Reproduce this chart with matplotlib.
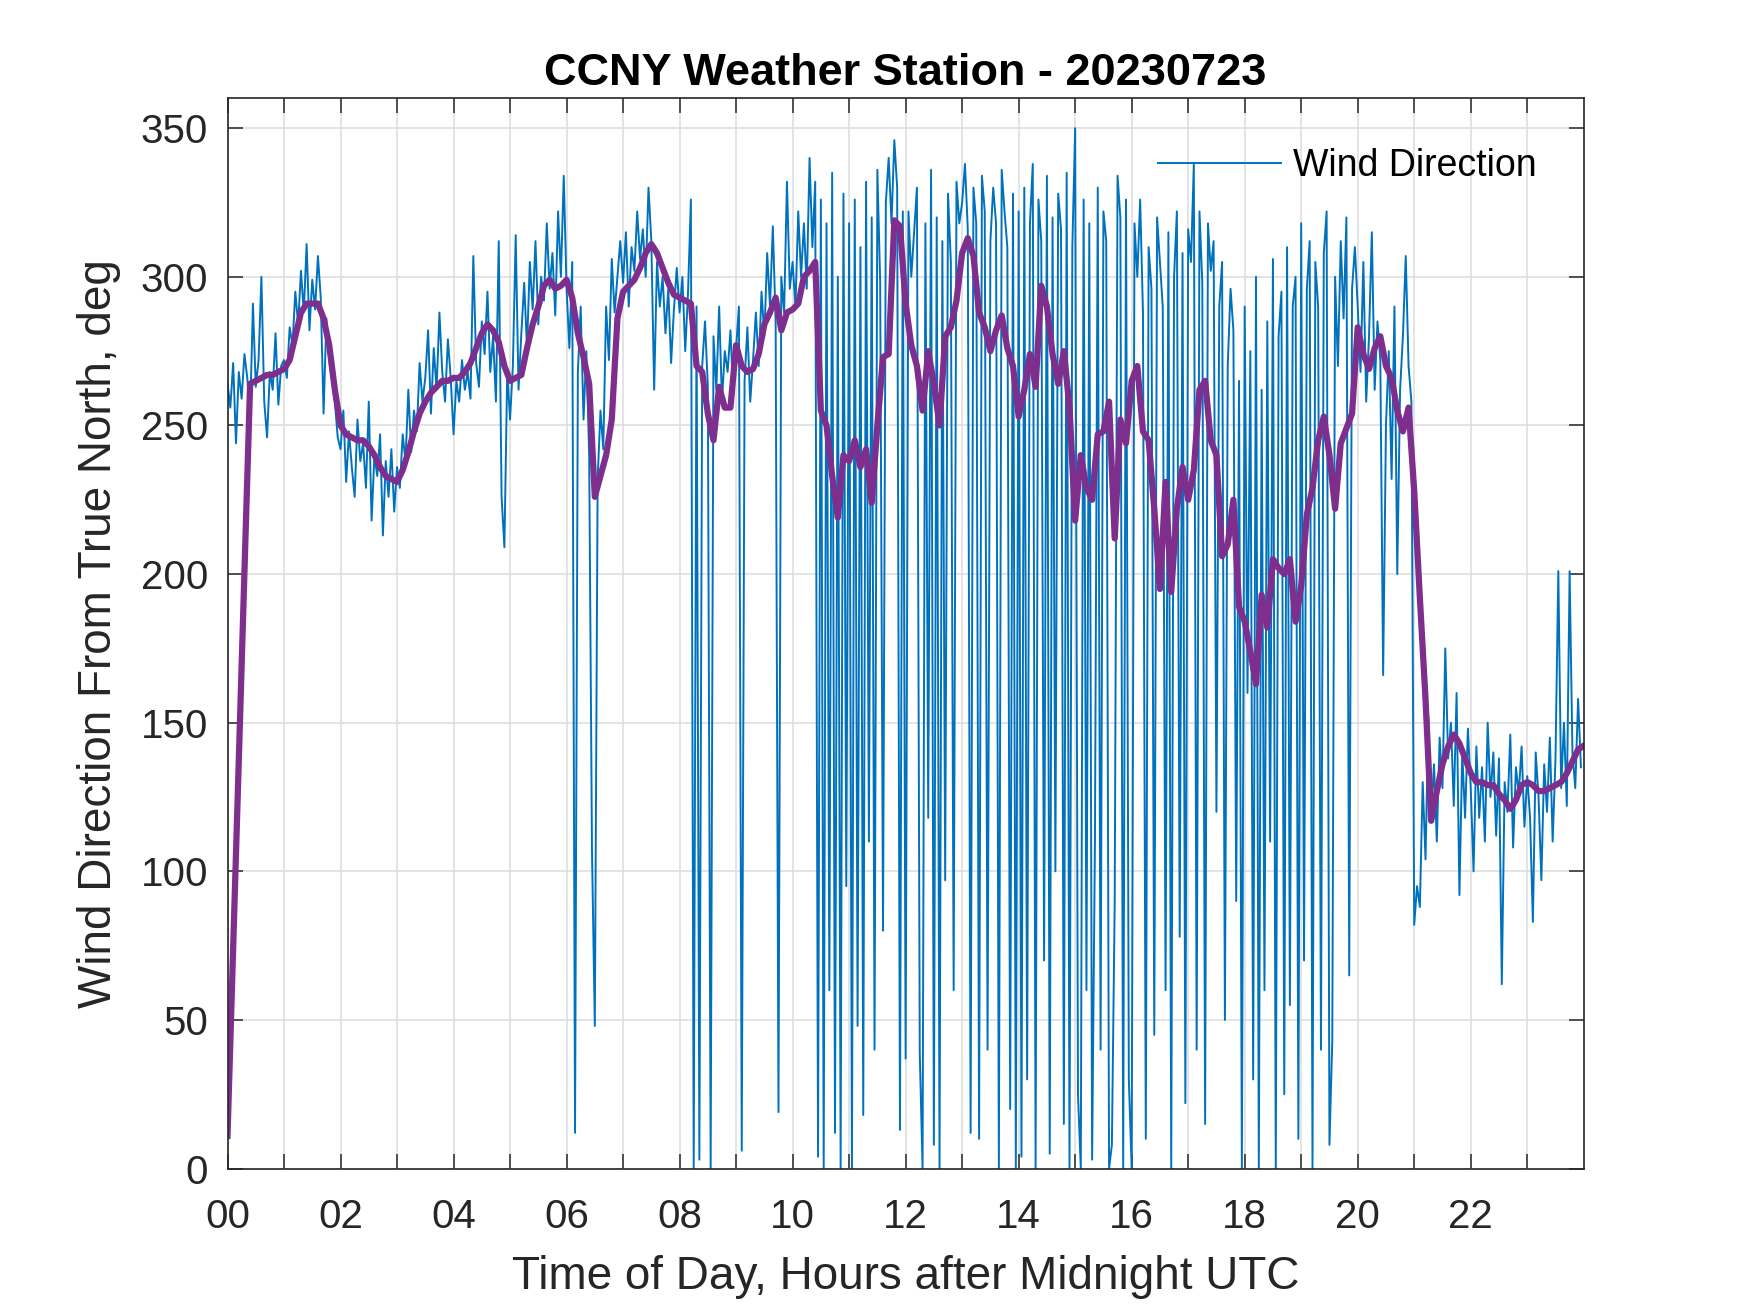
import matplotlib
matplotlib.use("Agg")
import matplotlib.pyplot as plt
import numpy as np

plt.rcParams['font.family'] = ['Liberation Sans', 'DejaVu Sans']

# wind direction samples, one every 3 minutes, one row per hour
wind_dir = [
    264, 256, 271, 244, 268, 259, 274, 266, 253, 291, 263, 272, 300, 258, 246, 268, 262, 281, 257, 270,
    272, 266, 283, 277, 295, 284, 302, 288, 311, 282, 299, 289, 307, 293, 254, 286, 272, 265, 258, 246,
    242, 255, 231, 248, 236, 226, 252, 238, 244, 229, 258, 218, 240, 233, 247, 213, 238, 226, 242, 221,
    236, 229, 247, 238, 262, 241, 255, 248, 271, 258, 266, 282, 254, 276, 262, 288, 268, 258, 279, 266,
    247, 265, 258, 272, 262, 268, 259, 307, 271, 263, 285, 274, 295, 268, 280, 258, 312, 226, 209, 268,
    252, 270, 314, 262, 281, 298, 276, 305, 289, 312, 284, 300, 292, 318, 296, 308, 287, 322, 300, 334,
    296, 276, 305, 12, 268, 290, 252, 275, 240, 107, 48, 232, 255, 242, 290, 272, 306, 288, 300, 312,
    298, 315, 290, 310, 302, 322, 306, 316, 300, 330, 312, 262, 305, 290, 300, 281, 296, 271, 289, 303,
    288, 300, 275, 295, 326, 0, 290, 3, 270, 285, 263, 0, 280, 262, 290, 258, 275, 268, 282, 260,
    276, 290, 6, 265, 283, 258, 272, 288, 270, 295, 280, 308, 290, 317, 285, 19, 300, 288, 332, 296,
    305, 290, 322, 300, 318, 296, 340, 310, 332, 4, 326, 0, 318, 60, 335, 12, 300, 0, 328, 95,
    318, 0, 326, 48, 310, 18, 332, 110, 320, 40, 336, 298, 80, 325, 340, 318, 346, 330, 13, 322,
    37, 322, 300, 315, 330, 39, 0, 318, 118, 336, 8, 320, 0, 312, 97, 328, 305, 60, 332, 318,
    325, 338, 316, 12, 330, 318, 10, 334, 322, 40, 312, 330, 318, 0, 336, 322, 310, 20, 328, 0,
    322, 4, 330, 30, 318, 338, 0, 326, 312, 70, 334, 5, 320, 100, 328, 316, 15, 335, 0, 310,
    350, 25, 0, 326, 60, 318, 3, 110, 330, 40, 322, 312, 0, 8, 90, 334, 320, 0, 326, 30,
    0, 318, 300, 326, 288, 10, 310, 296, 45, 320, 305, 290, 60, 315, 0, 300, 322, 78, 308, 22,
    316, 305, 338, 40, 322, 298, 15, 318, 302, 312, 120, 290, 305, 50, 270, 296, 282, 90, 265, 0,
    290, 160, 275, 30, 300, 0, 262, 60, 285, 110, 306, 0, 280, 295, 25, 310, 55, 290, 300, 10,
    318, 70, 296, 312, 0, 305, 290, 40, 308, 322, 8, 43, 300, 270, 312, 286, 320, 65, 296, 310,
    290, 268, 305, 258, 280, 315, 262, 285, 272, 166, 250, 275, 232, 290, 200, 262, 280, 307, 270, 258,
    82, 95, 88, 130, 104, 152, 118, 136, 110, 145, 128, 175, 138, 150, 122, 160, 92, 140, 118, 148,
    128, 100, 142, 118, 135, 110, 150, 125, 140, 112, 138, 62, 130, 120, 146, 108, 135, 126, 142, 115,
    132, 118, 83, 140, 125, 97, 136, 120, 145, 110, 138, 201, 128, 150, 122, 201, 140, 128, 158, 135,
]
wind_hours = np.arange(len(wind_dir)) * 0.05

# smoothed direction, every 6 minutes (first point at midnight)
smooth_dir = [
    11,
    264, 265, 266, 267, 267, 268,
    269, 272, 280, 288, 291, 291, 291, 286, 277, 262,
    250, 247, 246, 245, 245, 243, 240, 236, 233, 232,
    231, 235, 241, 248, 254, 258, 261, 263, 265, 265,
    266, 266, 268, 271, 276, 281, 284, 282, 278, 270,
    265, 266, 267, 276, 284, 290, 297, 299, 296, 297,
    299, 293, 281, 273, 264, 226, 233, 240, 252, 286,
    295, 297, 299, 303, 308, 311, 308, 303, 298, 294,
    293, 292, 291, 270, 268, 254, 245, 263, 256, 256,
    277, 270, 268, 269, 274, 284, 288, 293, 282, 288,
    289, 291, 300, 302, 305, 255, 250, 233, 219, 240,
    238, 245, 236, 242, 224, 250, 273, 274, 319, 317,
    291, 277, 270, 255, 275, 264, 250, 280, 283, 292,
    308, 313, 307, 288, 283, 275, 282, 287, 276, 270,
    253, 262, 274, 263, 297, 290, 274, 264, 275, 256,
    218, 240, 229, 225, 247, 248, 258, 212, 252, 244,
    265, 270, 248, 245, 222, 195, 231, 194, 222, 236,
    225, 235, 262, 265, 245, 240, 206, 210, 225, 189,
    184, 174, 163, 193, 182, 205, 202, 200, 205, 184,
    196, 220, 229, 245, 253, 240, 222, 244, 249, 254,
    283, 274, 269, 276, 280, 270, 266, 255, 248, 256,
    228, 192, 158, 117, 127, 136, 142, 146, 143, 138,
    133, 130, 130, 129, 129, 126, 124, 121, 124, 129,
    130, 129, 127, 127, 128, 129, 130, 133, 137, 141,
    142,
]
smooth_hours = np.r_[0.0, np.arange(4, 240) / 10, 23.98]

hour_ticks = list(range(24))
hour_labels = ['%02d' % h if h % 2 == 0 else '' for h in hour_ticks]

fig = plt.figure(figsize=(17.5, 13.13), dpi=100)
ax = fig.add_axes([0.13, 0.11, 0.775, 0.815])

line_wd, = ax.plot(wind_hours, wind_dir, color='#0072BD', lw=1.4)
ax.plot(smooth_hours, smooth_dir, color='#7E2F8E', lw=4.5)

ax.set_xlim(0, 24)
ax.set_ylim(0, 360)
ax.set_xticks(hour_ticks)
ax.set_xticklabels(hour_labels)
ax.set_yticks(range(0, 351, 50))
ax.grid(True, color='#dcdcdc', lw=1.1)
ax.set_axisbelow(True)

dark = '#262626'
ax.tick_params(direction='in', top=True, right=True, length=11, width=1.1,
               labelsize=29, colors=dark)
ax.tick_params(axis='x', pad=21)
ax.tick_params(axis='y', pad=14)
for s in ax.spines.values():
    s.set_color(dark)
    s.set_linewidth(1.2)

ax.set_title('CCNY Weather Station - 20230723', fontsize=32.5, fontweight='bold', pad=10)
ax.set_xlabel('Time of Day, Hours after Midnight UTC', fontsize=33, color=dark, labelpad=14)
ax.set_ylabel('Wind Direction From True North, deg', fontsize=33, color=dark, labelpad=14)

ax.legend([line_wd], ['Wind Direction'], loc='upper right', frameon=False,
          fontsize=27, handlelength=3.3, handletextpad=0.3, borderaxespad=0,
          bbox_to_anchor=(0.976, 0.968))

fig.savefig('out.png', dpi=100)
